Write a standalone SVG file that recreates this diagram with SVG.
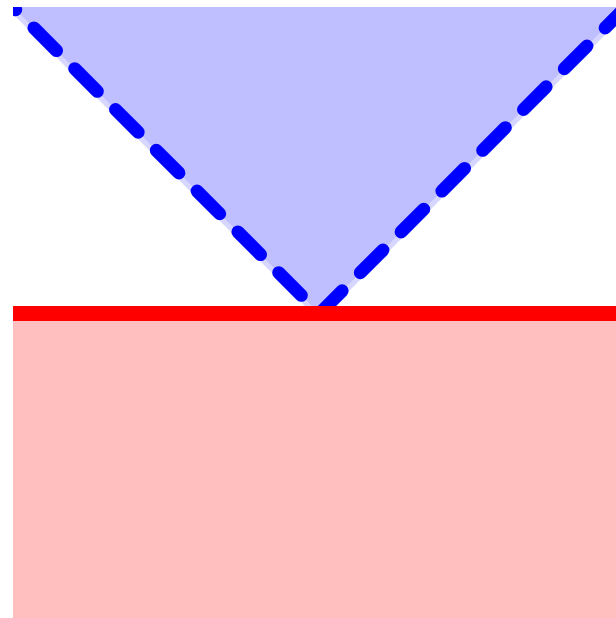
<svg xmlns="http://www.w3.org/2000/svg" width="616" height="618" viewBox="0 0 616 618">
<style>
.halo{fill:none;stroke:#d6d6ff;stroke-width:10;stroke-linejoin:round}
.tri{fill:#bfbfff;stroke:none}
.dash{fill:none;stroke:#0000ff;stroke-width:13;stroke-linecap:round;stroke-linejoin:round;stroke-dasharray:32 25.7;stroke-dashoffset:39.17}
.halfplane{fill:#ffbfbf}
.edge{stroke:#ff0000;stroke-width:15}
</style>
<defs>
<clipPath id="view"><rect x="13" y="7" width="620" height="620"/></clipPath>
</defs>
<rect x="0" y="0" width="616" height="618" fill="#ffffff"/>
<g clip-path="url(#view)">
<g id="halfplane">
<rect class="halfplane" x="13" y="313.5" width="620" height="320"/>
</g>
<g id="cone">
<polyline class="halo" points="-20,-26 319.5,313.5 660,-27"/>
<polygon class="tri" points="-20,-26 319.5,313.5 660,-27"/>
<polyline class="dash" points="-20,-26 319.5,313.5 660,-27"/>
</g>
<g id="boundary">
<line class="edge" x1="13" y1="313.5" x2="640" y2="313.5"/>
</g>
</g>
</svg>
